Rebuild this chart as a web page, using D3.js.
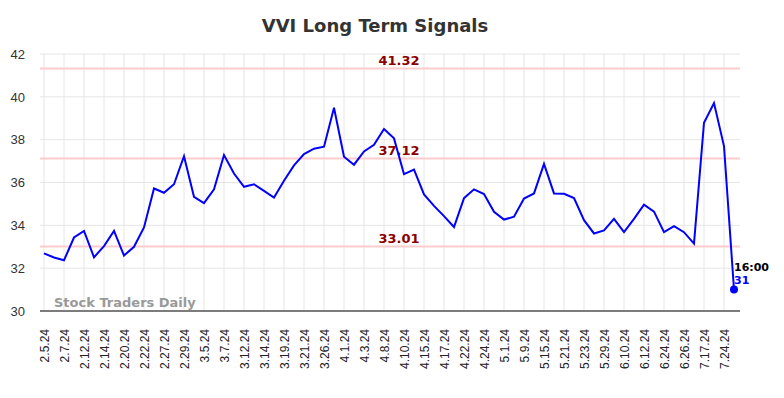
<!DOCTYPE html>
<html>
<head>
<meta charset="utf-8">
<script src="https://cdn.jsdelivr.net/npm/d3@7"></script>
<style>
  body { margin: 0; background: #fff; }
  svg { font-family: "DejaVu Sans", sans-serif; }
</style>
</head>
<body>
<div id="chart"></div>
<script>
var title = "VVI Long Term Signals";

var tickLabels = ["2.5.24", "2.7.24", "2.12.24", "2.14.24", "2.20.24", "2.22.24", "2.27.24", "2.29.24",
    "3.5.24", "3.7.24", "3.12.24", "3.14.24", "3.19.24", "3.21.24", "3.26.24", "4.1.24", "4.3.24",
    "4.8.24", "4.10.24", "4.15.24", "4.17.24", "4.22.24", "4.24.24", "5.1.24", "5.9.24", "5.15.24",
    "5.21.24", "5.23.24", "5.29.24", "6.10.24", "6.12.24", "6.24.24", "6.26.24", "7.17.24", "7.24.24"];

var prices = [32.69, 32.5, 32.37, 33.43, 33.74, 32.51, 33.03, 33.74, 32.59, 33.0,
    33.9, 35.72, 35.52, 35.92, 37.23, 35.33, 35.04, 35.68, 37.28, 36.42,
    35.8, 35.92, 35.61, 35.3, 36.08, 36.8, 37.33, 37.58, 37.67, 39.49,
    37.2, 36.83, 37.45, 37.76, 38.5, 38.06, 36.39, 36.6, 35.44, 34.91,
    34.43, 33.92, 35.27, 35.68, 35.46, 34.63, 34.27, 34.4, 35.25, 35.49,
    36.87, 35.49, 35.47, 35.27, 34.24, 33.62, 33.76, 34.3, 33.68, 34.3,
    34.97, 34.64, 33.68, 33.96, 33.68, 33.15, 38.79, 39.71, 37.7, 31.0];

var signals = [41.32, 37.12, 33.01];
var yTicks = [30, 32, 34, 36, 38, 40, 42];
var lastTime = "16:00";
var lastLabel = "31";

var width = 784, height = 398;
var plotLeft = 39, plotRight = 739, plotTop = 54, plotBottom = 311;

var svg = d3.select("#chart").append("svg")
    .attr("width", width)
    .attr("height", height);

var idx = d3.range(prices.length);

var x = d3.scalePoint()
    .domain(idx)
    .range([plotLeft, plotRight])
    .padding(0.5);

var y = d3.scaleLinear()
    .domain([30, 42])
    .range([plotBottom, plotTop]);

// grid
svg.append("g").selectAll("line")
    .data(yTicks)
    .enter().append("line")
    .attr("x1", plotLeft + 1).attr("x2", plotRight + 1)
    .attr("y1", function(d){ return y(d); })
    .attr("y2", function(d){ return y(d); })
    .style("stroke", "#e6e6e6");

svg.append("g").selectAll("line")
    .data(tickLabels)
    .enter().append("line")
    .attr("x1", function(d, i){ return x(i * 2); })
    .attr("x2", function(d, i){ return x(i * 2); })
    .attr("y1", plotTop)
    .attr("y2", plotBottom)
    .style("stroke", "#e6e6e6");

// y axis labels
var yAxis = d3.axisLeft(y).tickValues(yTicks).tickSize(0).tickPadding(0);
var ya = svg.append("g")
    .attr("transform", "translate(25,0)")
    .call(yAxis);
ya.select(".domain").remove();
ya.selectAll("text")
    .style("font-size", "13px")
    .style("fill", "#333");

// x axis
var xAxis = d3.axisBottom(x)
    .tickValues(idx.filter(function(i){ return i % 2 == 0; }))
    .tickFormat(function(i){ return tickLabels[i / 2]; })
    .tickSize(0);
var xa = svg.append("g")
    .attr("transform", "translate(0," + plotBottom + ")")
    .call(xAxis);
xa.select(".domain")
    .attr("d", "M" + (plotLeft + 1) + ",0H" + (plotRight + 1))
    .style("stroke", "#555")
    .style("stroke-width", 1.5);
xa.selectAll("text")
    .attr("transform", "rotate(-90)")
    .attr("x", -18)
    .attr("y", 0)
    .attr("dy", "0.35em")
    .style("text-anchor", "end")
    .style("font-size", "12px")
    .style("fill", "#222");

// signal lines
svg.append("g").selectAll("line")
    .data(signals)
    .enter().append("line")
    .attr("x1", plotLeft + 1).attr("x2", plotRight + 1)
    .attr("y1", function(d){ return y(d); })
    .attr("y2", function(d){ return y(d); })
    .style("stroke", "#ffcccc")
    .style("stroke-width", 2);

svg.append("g").selectAll("text")
    .data(signals)
    .enter().append("text")
    .attr("x", 399)
    .attr("y", function(d){ return y(d) - 4; })
    .attr("text-anchor", "middle")
    .style("font-size", "13px")
    .style("font-weight", "bold")
    .style("fill", "#8b0000")
    .text(function(d){ return d.toFixed(2); });

// watermark
svg.append("text")
    .attr("x", 54)
    .attr("y", 307)
    .style("font-size", "13px")
    .style("font-weight", "bold")
    .style("fill", "#999")
    .text("Stock Traders Daily");

// price line
var line = d3.line()
    .x(function(d, i){ return x(i); })
    .y(function(d){ return y(d); });

svg.append("path")
    .datum(prices)
    .attr("d", line)
    .style("fill", "none")
    .style("stroke", "#0000ff")
    .style("stroke-width", 2);

var li = prices.length - 1;
svg.append("circle")
    .attr("cx", x(li))
    .attr("cy", y(prices[li]))
    .attr("r", 4)
    .style("fill", "#0000ff");

svg.append("text")
    .attr("x", x(li))
    .attr("y", y(prices[li]) - 19)
    .style("font-size", "11px")
    .style("font-weight", "bold")
    .style("fill", "#000")
    .text(lastTime);

svg.append("text")
    .attr("x", x(li))
    .attr("y", y(prices[li]) - 6)
    .style("font-size", "11px")
    .style("font-weight", "bold")
    .style("fill", "#0000ff")
    .text(lastLabel);

// title
svg.append("text")
    .attr("x", 375)
    .attr("y", 32)
    .attr("text-anchor", "middle")
    .style("font-size", "18px")
    .style("font-weight", "bold")
    .style("fill", "#333")
    .text(title);
</script>
</body>
</html>
